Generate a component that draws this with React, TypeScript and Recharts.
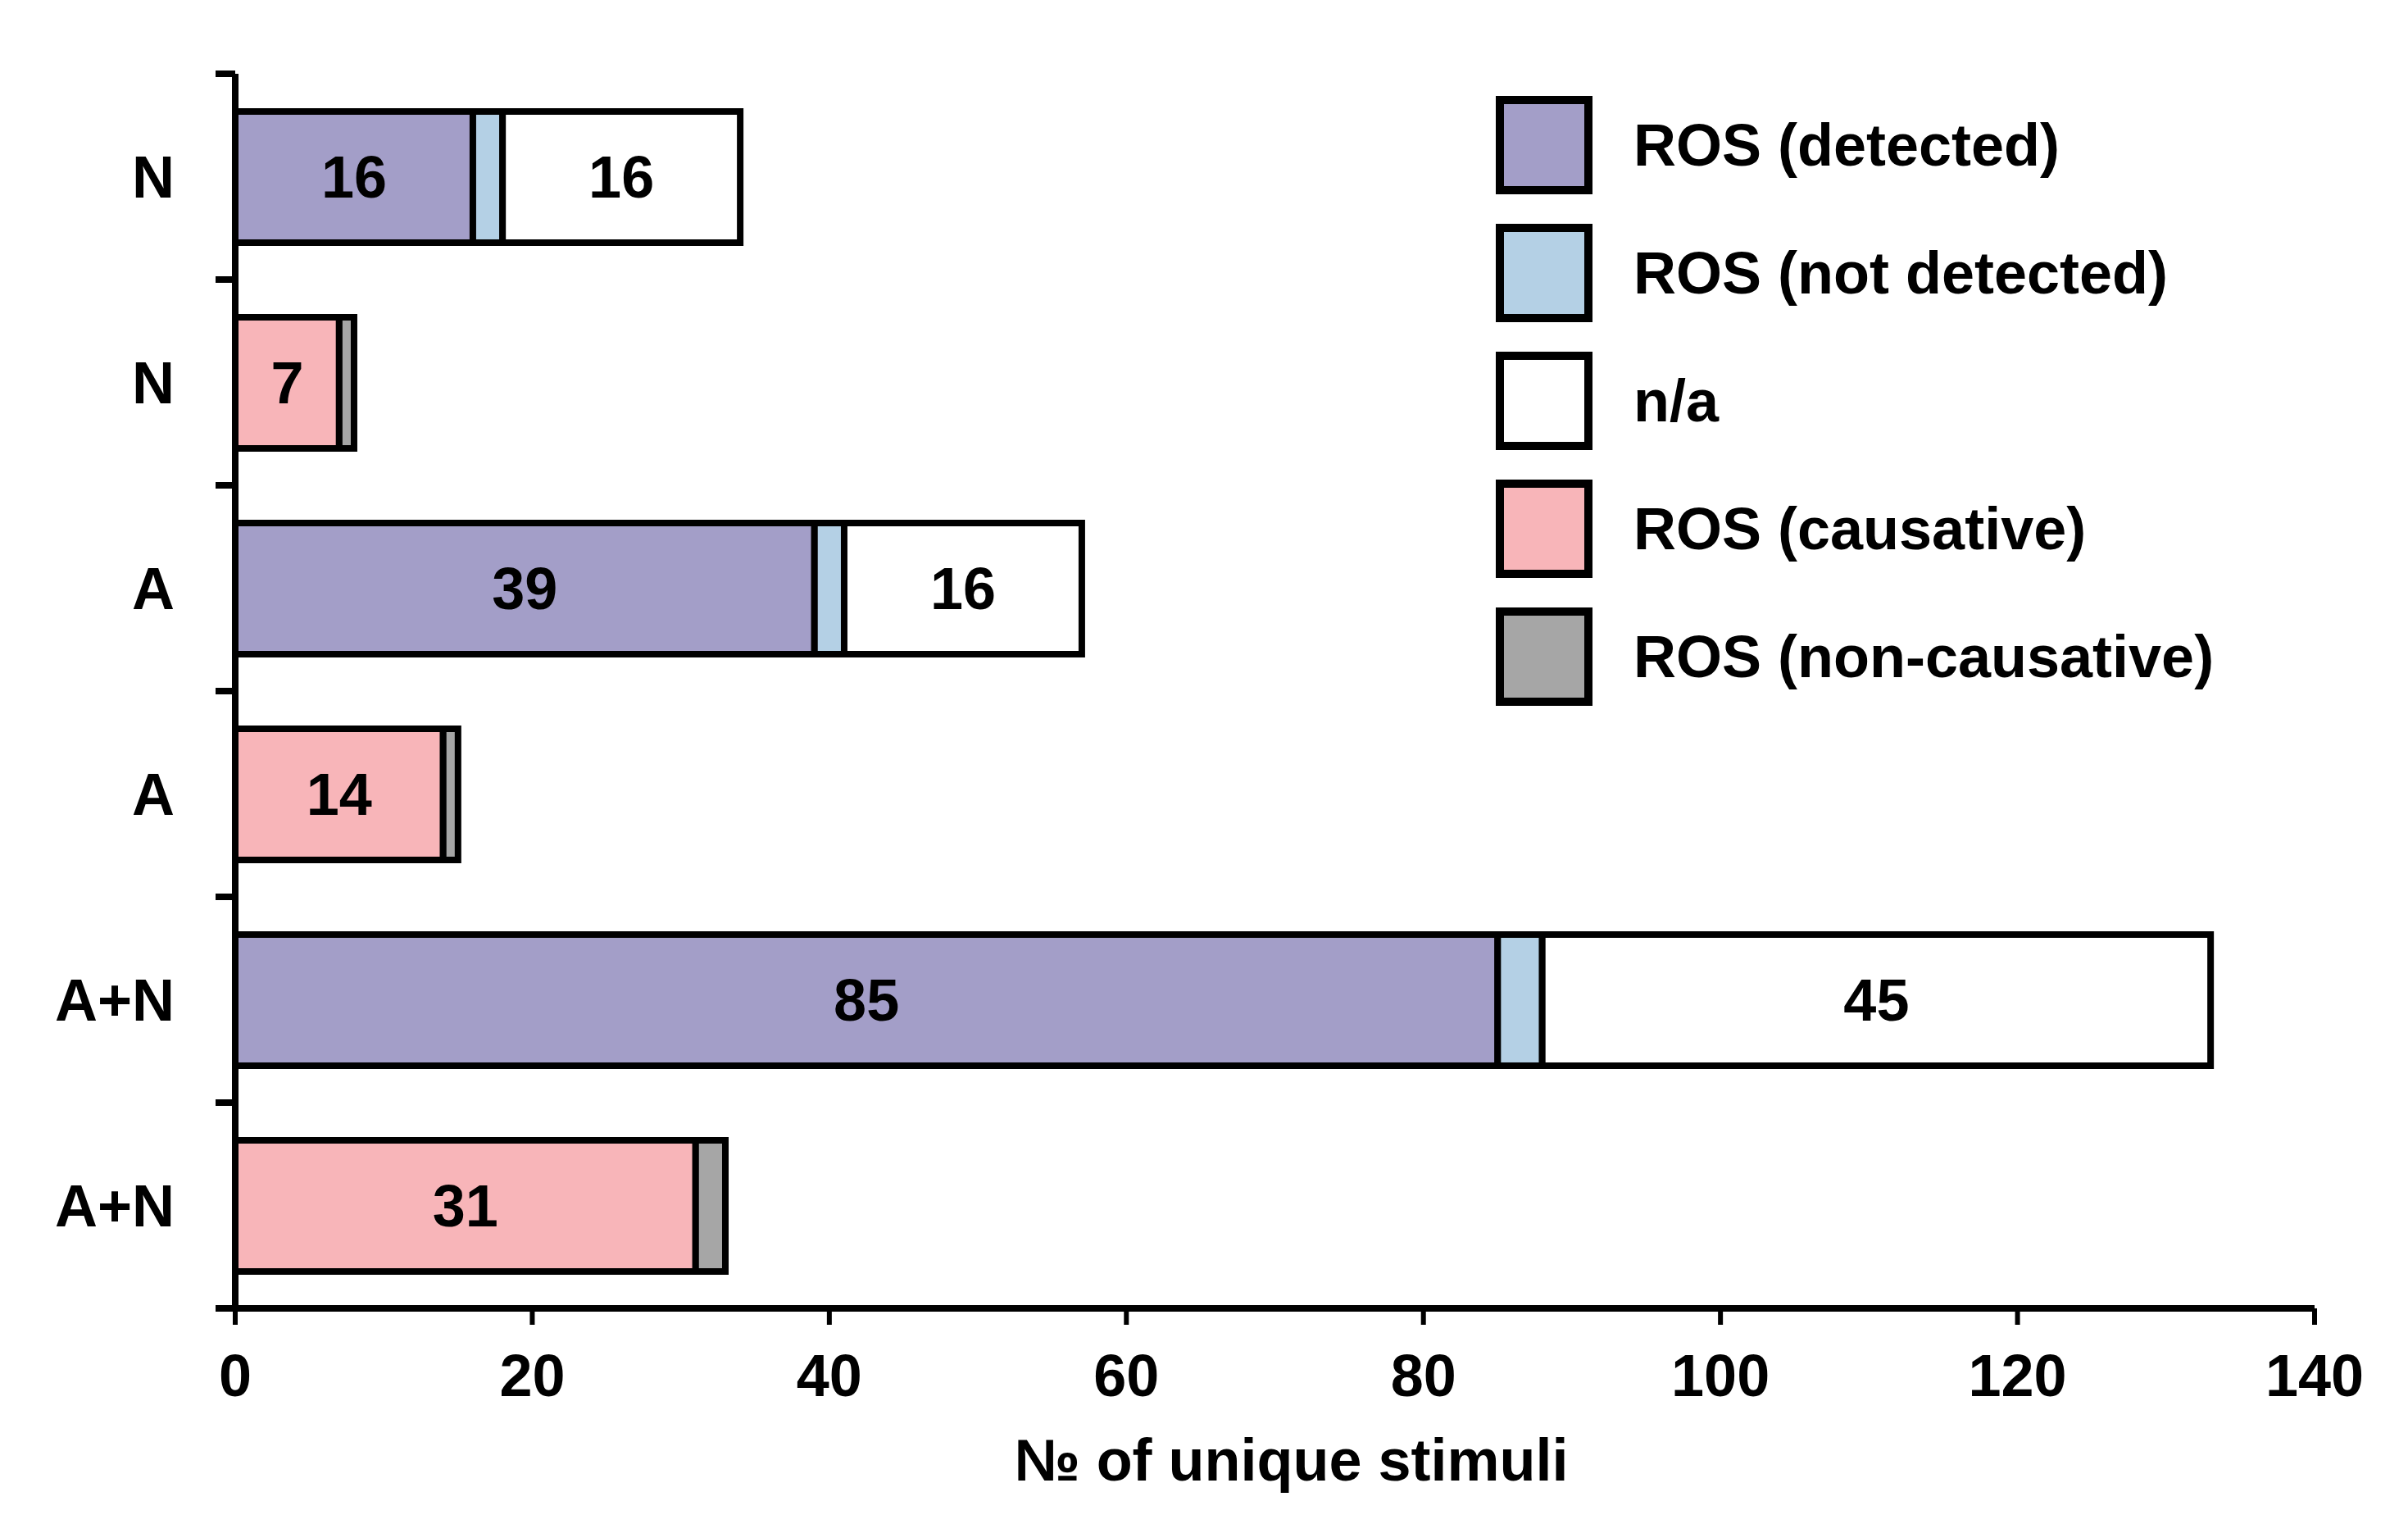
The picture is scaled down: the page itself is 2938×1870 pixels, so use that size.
import { BarChart, Bar, XAxis, YAxis, LabelList, Legend } from 'recharts'

// rows top to bottom
const categories = ['N', 'N', 'A', 'A', 'A+N', 'A+N']
const rosDetected = [16, 0, 39, 0, 85, 0]
const rosNotDetected = [2, 0, 2, 0, 3, 0]
const notAvailable = [16, 0, 16, 0, 45, 0]
const rosCausative = [0, 7, 0, 14, 0, 31]
const rosNonCausative = [0, 1, 0, 1, 0, 2]
const xTicks = [0, 20, 40, 60, 80, 100, 120, 140]

const SERIES = [
  { key: 'detected', name: 'ROS (detected)', color: '#a39ec8', labelled: true },
  { key: 'notDetected', name: 'ROS (not detected)', color: '#b4d0e5', labelled: false },
  { key: 'na', name: 'n/a', color: '#ffffff', labelled: true },
  { key: 'causative', name: 'ROS (causative)', color: '#f8b5b9', labelled: true },
  { key: 'nonCausative', name: 'ROS (non-causative)', color: '#a6a6a6', labelled: false },
]

const data = categories.map((name, i) => ({
  idx: i,
  name,
  detected: rosDetected[i],
  notDetected: rosNotDetected[i],
  na: notAvailable[i],
  causative: rosCausative[i],
  nonCausative: rosNonCausative[i],
}))

const FONT = '"Liberation Sans", Arial, sans-serif'

// row label at the band centre, tick marks at the band edges
const RowTick = (props: any) => {
  const { x, y, payload, index, height } = props
  const half = payload?.offset || height / (2 * categories.length)
  const isLast = index === categories.length - 1
  return (
    <g>
      <line x1={x - 24} x2={x} y1={y - half} y2={y - half} stroke="#000" strokeWidth={8} />
      {isLast && <line x1={x - 24} x2={x} y1={y + half} y2={y + half} stroke="#000" strokeWidth={8} />}
      <text
        x={x - 74}
        y={y}
        textAnchor="end"
        dominantBaseline="central"
        fontFamily={FONT}
        fontWeight="bold"
        fontSize={72}
        fill="#000"
      >
        {categories[payload.value]}
      </text>
    </g>
  )
}

const InsideLabel = (props: any) => {
  const { x, y, width, height, value } = props
  if (!value) return null
  return (
    <text
      x={x + width / 2}
      y={y + height / 2}
      textAnchor="middle"
      dominantBaseline="central"
      fontFamily={FONT}
      fontWeight="bold"
      fontSize={72}
      fill="#000"
    >
      {value}
    </text>
  )
}

const LegendBox = () => (
  <div style={{ fontFamily: FONT, fontWeight: 'bold', fontSize: 72, color: '#000' }}>
    {SERIES.map((s) => (
      <div key={s.key} style={{ display: 'flex', alignItems: 'center', height: 120, marginBottom: 36 }}>
        <div
          style={{
            width: 98,
            height: 100,
            border: '10px solid #000',
            background: s.color,
          }}
        />
        <span style={{ marginLeft: 50, whiteSpace: 'nowrap' }}>{s.name}</span>
      </div>
    ))}
  </div>
)

export default function App() {
  return (
    <div style={{ position: 'absolute', left: 0, top: 0, background: '#fff' }}>
      <BarChart
        width={2938}
        height={1870}
        data={data}
        layout="vertical"
        margin={{ top: 90, right: 114, bottom: 0, left: 0 }}
        barSize={160}
      >
        <XAxis
          type="number"
          domain={[0, 140]}
          ticks={xTicks}
          height={274}
          axisLine={{ stroke: '#000', strokeWidth: 8 }}
          tickLine={{ stroke: '#000', strokeWidth: 6 }}
          tickSize={20}
          tickMargin={36}
          tick={{ fontFamily: FONT, fontWeight: 'bold', fontSize: 72, fill: '#000' }}
          label={{
            value: '№ of unique stimuli',
            position: 'insideBottom',
            offset: 64,
            dx: 20,
            fontFamily: FONT,
            fontWeight: 'bold',
            fontSize: 72,
            fill: '#000',
          }}
        />
        <YAxis
          type="category"
          dataKey="idx"
          width={287}
          interval={0}
          tickLine={false}
          tickSize={0}
          tickMargin={0}
          tick={<RowTick />}
          axisLine={{ stroke: '#000', strokeWidth: 8 }}
        />
        {SERIES.map((s) => (
          <Bar
            key={s.key}
            dataKey={s.key}
            name={s.name}
            stackId="s"
            fill={s.color}
            stroke="#000"
            strokeWidth={8}
            isAnimationActive={false}
          >
            {s.labelled && <LabelList dataKey={s.key} content={InsideLabel} />}
          </Bar>
        ))}
        <Legend
          layout="vertical"
          align="center"
          verticalAlign="middle"
          wrapperStyle={{ position: 'absolute', left: 1825, top: 117, width: 'auto', height: 'auto' }}
          content={() => <LegendBox />}
        />
      </BarChart>
    </div>
  )
}
